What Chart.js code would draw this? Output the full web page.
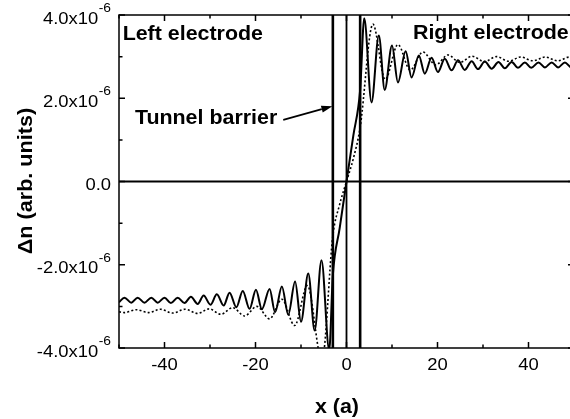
<!DOCTYPE html>
<html>
<head>
<meta charset="utf-8">
<script src="https://cdn.jsdelivr.net/npm/chart.js@4.4.0/dist/chart.umd.min.js"></script>
<style>
  html, body { margin: 0; padding: 0; background: #fff; overflow: hidden; }
  #wrap { width: 580px; height: 419px; }
</style>
</head>
<body>
<div id="wrap"><canvas id="chart"></canvas></div>
<script>
// x in lattice units a, y in units of 1e-6 (arb. units)
const solidX = [-50, -48.8, -47.3, -45.9, -44.4, -42.9, -41.5, -40.0, -38.6, -37.1, -35.6, -34.2,
  -32.7, -31.4, -29.9, -28.5, -27.0, -25.7, -24.2, -22.8, -21.3, -19.9, -18.6, -16.9, -15.7, -14.2,
  -12.8, -11.3, -10.0, -8.4, -7.0, -5.5, -3.8, -3.0, -1.5, 0, 1.5, 3.0, 3.9, 5.5, 7.1, 8.4, 10.0,
  11.3, 13.0, 14.3, 15.9, 17.2, 18.7, 20.1, 21.6, 23.1, 24.5, 26.0, 27.5, 28.9, 30.4, 31.9, 33.4,
  34.8, 36.3, 37.7, 39.2, 40.6, 42.2, 43.6, 45.1, 46.5, 48.0, 49.4, 50];
const solidY = [-2.90, -2.79, -2.91, -2.79, -2.91, -2.79, -2.91, -2.79, -2.92, -2.79, -2.92, -2.77,
  -2.94, -2.74, -2.96, -2.71, -2.98, -2.67, -3.02, -2.63, -3.06, -2.60, -3.07, -2.58, -3.14, -2.52,
  -3.20, -2.40, -3.37, -2.21, -3.58, -1.89, -4.05, -2.25, -1.12, 0, 1.10, 2.20, 3.92, 1.90, 3.51, 2.20, 3.27,
  2.38, 3.13, 2.50, 3.03, 2.59, 2.97, 2.63, 2.95, 2.67, 2.91, 2.68, 2.89, 2.70, 2.88, 2.71, 2.87,
  2.72, 2.87, 2.73, 2.86, 2.73, 2.86, 2.74, 2.86, 2.74, 2.86, 2.74, 2.76];

const dottedX = [-50, -48.8, -46.2, -43.5, -40.9, -38.2, -35.5, -32.7, -30.2, -27.6, -25.0, -22.4,
  -19.7, -16.9, -14.2, -11.4, -8.6, -5.4, -3.0, -1.5, 0, 1.5, 3.0, 5.8, 8.5, 11.3, 14.0, 16.8, 19.6,
  22.3, 24.9, 27.6, 30.3, 33.0, 35.6, 38.3, 41.0, 43.7, 46.4, 49.0, 50];
const dottedY = [-3.13, -3.15, -3.08, -3.15, -3.07, -3.16, -3.07, -3.17, -3.06, -3.19, -3.03, -3.23,
  -3.00, -3.30, -2.83, -3.46, -2.50, -4.30, -1.30, -0.55, 0, 0.55, 1.30, 3.78, 2.45, 3.29, 2.68, 3.11, 2.80,
  3.04, 2.86, 3.01, 2.88, 3.00, 2.89, 2.99, 2.90, 2.99, 2.90, 2.99, 2.97];

// barrier edges and centre
const barrierX = [-3, 0, 3];

// axis ranges / ticks
const xRange = [-50, 50];
const yRange = [-4, 4];
const xLabelTicks = [-40, -20, 0, 20, 40];
const yLabelTicks = [-4, -2, 0, 2, 4];

// text labels in the plot (data coords of left/baseline)
const noteText = ['Left electrode', 'Right electrode', 'Tunnel barrier'];
const noteX = [-49.2, 14.6, -46.5];
const noteY = [3.41, 3.42, 1.375];
const arrowFrom = [-13.9, 1.48];
const arrowTo = [-3.1, 1.81];

const FONT = '"Liberation Sans", Arial, Helvetica, sans-serif';

function drawText(ctx, txt, x, y, font, align, sx) {
  ctx.save();
  ctx.font = font;
  ctx.textAlign = align;
  ctx.textBaseline = 'alphabetic';
  ctx.translate(x, y);
  ctx.scale(sx, 1);
  ctx.fillText(txt, 0, 0);
  ctx.restore();
}

const decor = {
  id: 'decor',
  afterDraw(chart) {
    const ctx = chart.ctx;
    const a = chart.chartArea;
    const xs = chart.scales.x, ys = chart.scales.y;
    ctx.save();
    ctx.strokeStyle = '#000';
    ctx.fillStyle = '#000';
    ctx.lineWidth = 1.5;
    ctx.strokeRect(a.left, a.top, a.right - a.left, a.bottom - a.top);

    // inward ticks on all four sides
    ctx.beginPath();
    xs.ticks.forEach(t => {
      const px = xs.getPixelForValue(t.value);
      const len = t.value % 20 === 0 ? 6 : 3.5;
      ctx.moveTo(px, a.bottom); ctx.lineTo(px, a.bottom - len);
      ctx.moveTo(px, a.top); ctx.lineTo(px, a.top + len);
    });
    ys.ticks.forEach(t => {
      const py = ys.getPixelForValue(t.value);
      const len = t.value % 2 === 0 ? 6 : 3.5;
      ctx.moveTo(a.left, py); ctx.lineTo(a.left + len, py);
      ctx.moveTo(a.right, py); ctx.lineTo(a.right - len, py);
    });
    ctx.stroke();

    // x tick labels
    xLabelTicks.forEach(v => {
      drawText(ctx, String(v), xs.getPixelForValue(v), a.bottom + 22, '16px ' + FONT, 'center', 1.15);
    });

    // y tick labels with superscript exponent
    const right = a.left - 8;
    ctx.font = '12px ' + FONT;
    const supW = ctx.measureText('-6').width * 1.15;
    yLabelTicks.forEach(v => {
      const py = ys.getPixelForValue(v);
      if (v === 0) {
        drawText(ctx, '0.0', right, py + 8.5, '16px ' + FONT, 'right', 1.15);
      } else {
        drawText(ctx, v.toFixed(1) + 'x10', right - supW - 0.5, py + 8.5, '16px ' + FONT, 'right', 1.15);
        drawText(ctx, '-6', right - supW, py - 3, '12px ' + FONT, 'left', 1.15);
      }
    });

    // axis titles
    drawText(ctx, 'x (a)', 337, 413, 'bold 20px ' + FONT, 'center', 1.07);
    ctx.save();
    ctx.translate(32, 181);
    ctx.rotate(-Math.PI / 2);
    drawText(ctx, 'Δn (arb. units)', 0, 0, 'bold 20px ' + FONT, 'center', 1.08);
    ctx.restore();

    // annotations
    noteText.forEach((txt, i) => {
      drawText(ctx, txt, xs.getPixelForValue(noteX[i]), ys.getPixelForValue(noteY[i]),
        'bold 20px ' + FONT, 'left', 1.07);
    });

    // arrow to barrier
    const x0 = xs.getPixelForValue(arrowFrom[0]), y0 = ys.getPixelForValue(arrowFrom[1]);
    const x1 = xs.getPixelForValue(arrowTo[0]), y1 = ys.getPixelForValue(arrowTo[1]);
    const ang = Math.atan2(y1 - y0, x1 - x0);
    const hl = 11, hw = 3.5;
    const bx = x1 - hl * Math.cos(ang), by = y1 - hl * Math.sin(ang);
    ctx.lineWidth = 1.6;
    ctx.beginPath();
    ctx.moveTo(x0, y0); ctx.lineTo(bx, by);
    ctx.stroke();
    ctx.beginPath();
    ctx.moveTo(x1, y1);
    ctx.lineTo(bx + hw * Math.sin(ang), by - hw * Math.cos(ang));
    ctx.lineTo(bx - hw * Math.sin(ang), by + hw * Math.cos(ang));
    ctx.closePath();
    ctx.fill();
    ctx.restore();
  }
};

const toPoints = (xs, ys) => xs.map((x, i) => ({ x: x, y: ys[i] }));

const datasets = [
  {
    label: 'solid',
    data: toPoints(solidX, solidY),
    borderColor: '#000', borderWidth: 2, pointRadius: 0,
    cubicInterpolationMode: 'monotone', fill: false
  },
  {
    label: 'dotted',
    data: toPoints(dottedX, dottedY),
    borderColor: '#000', borderWidth: 1.6, borderDash: [2, 2.2], pointRadius: 0,
    cubicInterpolationMode: 'monotone', fill: false
  },
  {
    label: 'zero',
    data: [{ x: xRange[0], y: 0 }, { x: xRange[1], y: 0 }],
    borderColor: '#000', borderWidth: 2.2, pointRadius: 0, fill: false
  }
];
barrierX.forEach(bx => {
  datasets.push({
    label: 'barrier ' + bx,
    data: [{ x: bx, y: yRange[0] }, { x: bx, y: yRange[1] }],
    borderColor: '#000', borderWidth: bx === 0 ? 1.8 : 2.6, pointRadius: 0, fill: false
  });
});

new Chart(document.getElementById('chart'), {
  type: 'line',
  data: { datasets: datasets },
  options: {
    responsive: true,
    maintainAspectRatio: false,
    animation: false,
    devicePixelRatio: 1,
    layout: { padding: { top: 15, right: 6, left: 0, bottom: 0 } },
    plugins: { legend: { display: false }, tooltip: { enabled: false } },
    scales: {
      x: {
        type: 'linear', min: xRange[0], max: xRange[1],
        ticks: { stepSize: 10, display: false },
        grid: { display: false }, border: { display: false },
        afterFit: s => { s.height = 71; }
      },
      y: {
        type: 'linear', min: yRange[0], max: yRange[1],
        ticks: { stepSize: 1, display: false },
        grid: { display: false }, border: { display: false },
        afterFit: s => { s.width = 119; }
      }
    }
  },
  plugins: [decor]
});
</script>
</body>
</html>
